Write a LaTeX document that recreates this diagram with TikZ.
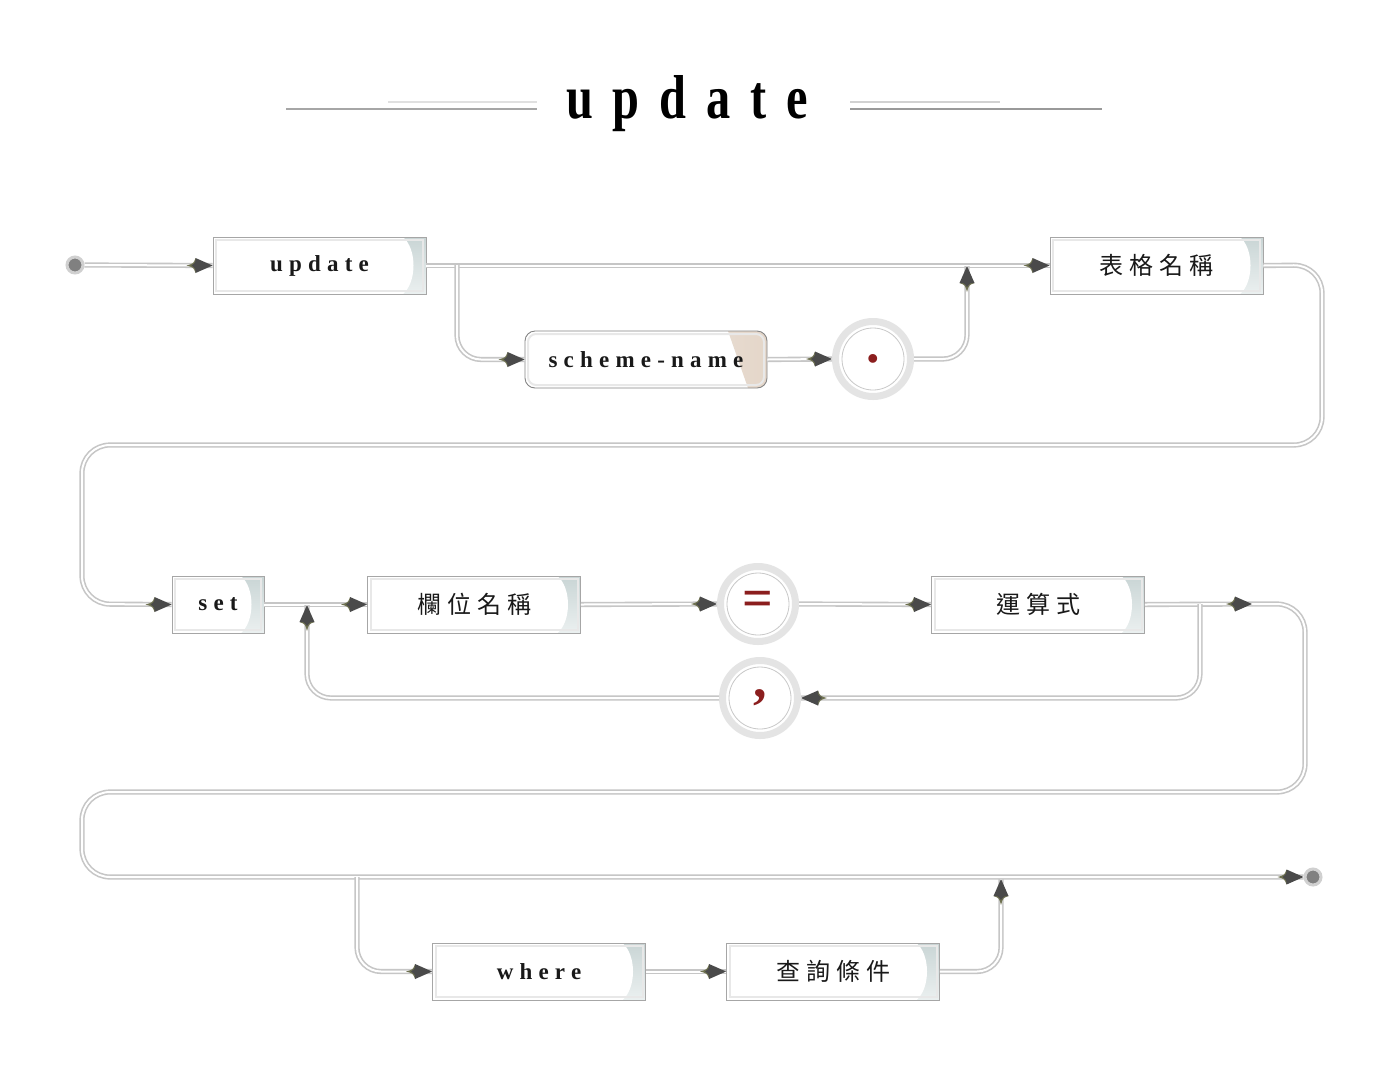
\documentclass[tikz,border=0pt]{standalone}
\usepackage{fontspec}
\setmainfont{Liberation Serif}
\newfontfamily\titlefont[FakeStretch=0.78,LetterSpace=32]{Liberation Serif}
\newfontfamily\boxfont[LetterSpace=27]{Liberation Serif}
\newfontfamily\cjk[LetterSpace=25]{Noto Sans CJK TC}
\definecolor{linegray}{HTML}{C6C6C6}
\definecolor{boxborder}{HTML}{A6A6A6}
\definecolor{innerline}{HTML}{E8E8E8}
\definecolor{gradtop}{HTML}{C9D5D5}
\definecolor{gradbot}{HTML}{EBF0F0}
\definecolor{beigeA}{HTML}{F4F0EC}
\definecolor{beigeB}{HTML}{E4D6C9}
\definecolor{arrdark}{HTML}{4A4A4A}
\definecolor{arrolive}{HTML}{6E7150}
\definecolor{symred}{HTML}{8B1E1E}
\definecolor{ringgray}{HTML}{E4E4E4}
\definecolor{thinring}{HTML}{C8C8C8}
\definecolor{dotfill}{HTML}{808080}
\definecolor{dotring}{HTML}{D0D0D0}
\tikzset{
  ah/.pic={
    \fill[sharp corners, arrolive] (-17,-7.5) .. controls (-19,-2) .. (-26,0) .. controls (-19,2) .. (-17,7.5) -- (-14,0) -- cycle;
    \fill[sharp corners, arrdark] (0,0) -- (-17,-7.5) .. controls (-17,-3) .. (-21,0) .. controls (-17,3) .. (-17,7.5) -- cycle;
  },
  conn/.style={draw=linegray, line width=1.6pt, double=white, double distance=2pt},
  kbox/.style={draw=boxborder, line width=0.9pt, fill=white, minimum width=#1, minimum height=57pt, inner sep=0pt,
    path picture={
      \fill[top color=gradtop, bottom color=gradbot] ([xshift=-26pt]path picture bounding box.north east) rectangle (path picture bounding box.south east);
      \fill[white] ([xshift=-23pt]path picture bounding box.north east) .. controls ([xshift=-9pt,yshift=-12pt]path picture bounding box.north east) and ([xshift=-9pt,yshift=12pt]path picture bounding box.south east) .. ([xshift=-23pt]path picture bounding box.south east) -- (path picture bounding box.south west) -- (path picture bounding box.north west) -- cycle;
      \draw[innerline, line width=2pt] ([xshift=3pt,yshift=-3pt]path picture bounding box.north west) rectangle ([xshift=-3pt,yshift=3pt]path picture bounding box.south east);
    }},
  kbox/.default=213pt,
  latin/.style={font=\fontsize{23}{23}\boxfont\bfseries, text=black!90},
  han/.style={font=\fontsize{24}{24}\cjk, text=black!90},
  rbox/.style={draw=boxborder!80!black, line width=0.9pt, fill=white, rounded corners=10pt, minimum width=242pt, minimum height=57pt, inner sep=0pt,
    path picture={
      \fill[sharp corners, left color=beigeA, right color=beigeB] ([xshift=-39pt]path picture bounding box.north east) -- (path picture bounding box.north east) -- (path picture bounding box.south east) -- ([xshift=-19pt]path picture bounding box.south east) -- cycle;
      \draw[innerline, line width=2pt, rounded corners=8pt] ([xshift=3pt,yshift=-3pt]path picture bounding box.north west) rectangle ([xshift=-3pt,yshift=3pt]path picture bounding box.south east);
    }},
  circ/.style={circle, minimum size=75pt, inner sep=0pt, draw=ringgray, line width=7pt, fill=white, text=symred,
    font=\fontsize{54}{54}\selectfont\bfseries,
    path picture={\draw[thinring, line width=0.8pt] (path picture bounding box.center) circle[radius=31pt];}},
  enddot/.style={circle, minimum size=16pt, inner sep=0pt, fill=dotfill, draw=dotring, line width=3pt},
}
\begin{document}
\begin{tikzpicture}[x=1pt,y=-1pt]
\useasboundingbox (0,0) rectangle (1388,1074);
\fill[white] (0,0) rectangle (1388,1074);
% title
\draw[color=black!35, line width=2.5pt] (286,109) -- (537,109);
\draw[color=black!12, line width=2pt] (388,102) -- (537,102);
\draw[color=black!18, line width=1.5pt] (850,102) -- (1000,102);
\draw[color=black!40, line width=2.5pt] (850,109) -- (1102,109);
\node[anchor=base, font=\fontsize{62}{62}\titlefont\bfseries] (title) at (687,118) {update};
% nodes
\node[enddot] (start) at (75,265) {};
\node[kbox, latin] (upd) at (319.5,265.5) {update};
\node[kbox, han] (tbl) at (1156.5,265.5) {表格名稱};
\node[rbox, latin] (sch) at (646,359.5) {scheme-name};
\node[circ] (dotc) at (873,359) {.};
\node[kbox=92pt, latin] (set) at (218,604.5) {set};
\node[kbox, han] (col) at (474,604.5) {欄位名稱};
\node[circ] (eq) at (758,604) {=};
\node[kbox, han] (expr) at (1038,604.5) {運算式};
\node[circ] (comma) at (760,698) {,};
\node[kbox, latin] (where) at (539,971.5) {where};
\node[kbox, han] (cond) at (833,971.5) {查詢條件};
\node[enddot] (fin) at (1313,877) {};
% junction coordinates
\coordinate (j1) at (457,265);
\coordinate (j2) at (967,266);
\coordinate (a1) at (1252,604);
\coordinate (j3) at (1200,604);
\coordinate (j4) at (307,605);
\coordinate (j5) at (357,877);
\coordinate (j6) at (1001,879);
% main connectors
\draw[conn] (start.east) -- (upd.west);
\draw[conn] (upd.east) -- (tbl.west);
\draw[conn, rounded corners=28pt] (tbl.east) -- (1322,265) -- (1322,445) -- (82,445) -- (82,604) -- (set.west);
\draw[conn] (set.east) -- (col.west);
\draw[conn] (col.east) -- (eq.west);
\draw[conn] (eq.east) -- (expr.west);
\draw[conn] (expr.east) -- (a1);
\draw[conn, rounded corners=28pt] (a1) -- (1305,604) -- (1305,792) -- (82,792) -- (82,877) -- (fin.west);
% branches
\draw[conn, rounded corners=24pt] (j1) |- (sch.west);
\draw[conn] (sch.east) -- (dotc.west);
\draw[conn, rounded corners=24pt] (dotc.east) -| (j2);
\draw[conn, rounded corners=24pt] (j3) |- (comma.east);
\draw[conn, rounded corners=24pt] (comma.west) -| (j4);
\draw[conn, rounded corners=24pt] (j5) |- (where.west);
\draw[conn] (where.east) -- (cond.west);
\draw[conn, rounded corners=24pt] (cond.east) -| (j6);
% arrowheads
\pic at (upd.west) {ah};
\pic at (tbl.west) {ah};
\pic at (sch.west) {ah};
\pic at (dotc.west) {ah};
\pic[rotate=90] at (j2) {ah};
\pic at (set.west) {ah};
\pic at (col.west) {ah};
\pic at (eq.west) {ah};
\pic at (expr.west) {ah};
\pic at (a1) {ah};
\pic[rotate=180] at (comma.east) {ah};
\pic[rotate=90] at (j4) {ah};
\pic at (fin.west) {ah};
\pic at (where.west) {ah};
\pic at (cond.west) {ah};
\pic[rotate=90] at (j6) {ah};
\end{tikzpicture}
\end{document}
